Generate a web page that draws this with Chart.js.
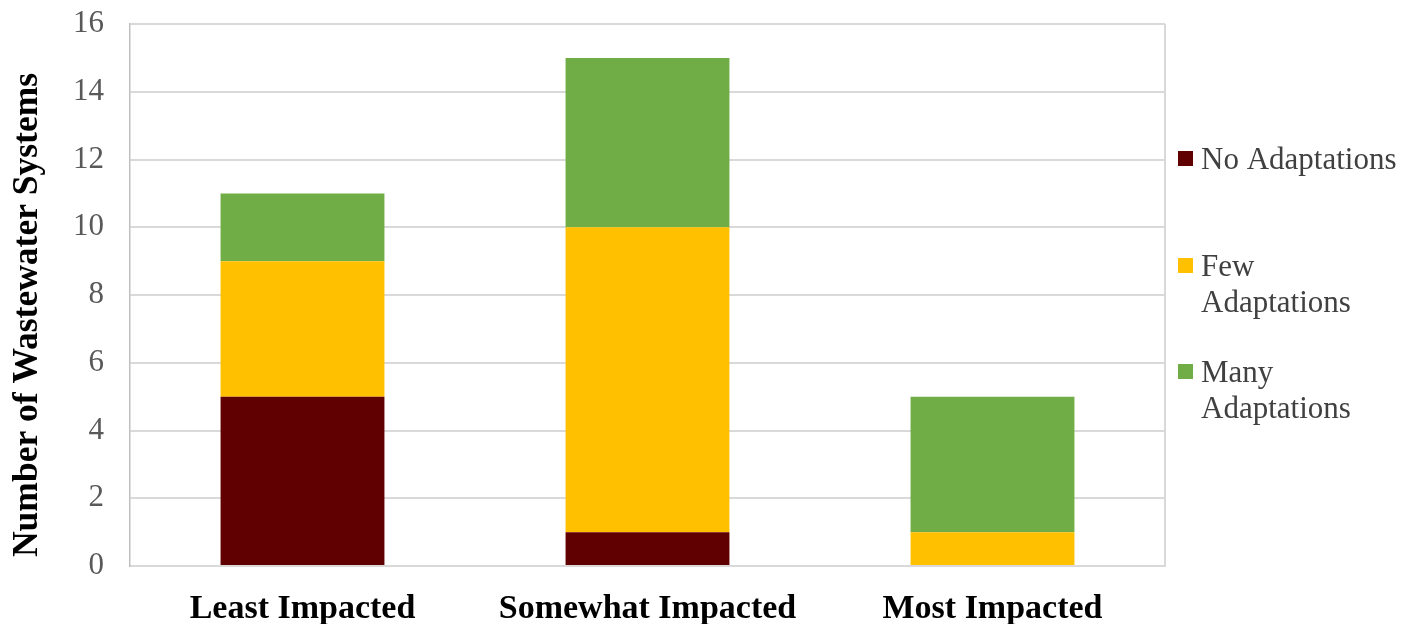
<!DOCTYPE html>
<html>
<head>
<meta charset="utf-8">
<script src="https://cdn.jsdelivr.net/npm/chart.js@4/dist/chart.umd.min.js"></script>
<style>
  html, body { margin: 0; padding: 0; background: #ffffff; }
  #wrap { width: 1415px; height: 624px; position: relative; }
</style>
</head>
<body>
<div id="wrap"><canvas id="c"></canvas></div>
<script>
const categories = ["Least Impacted", "Somewhat Impacted", "Most Impacted"];
const seriesNames = ["No Adaptations", "Few Adaptations", "Many Adaptations"];
const legendLines = [["No Adaptations"], ["Few", "Adaptations"], ["Many", "Adaptations"]];
const noAdaptations = [5, 1, 0];
const fewAdaptations = [4, 9, 1];
const manyAdaptations = [2, 5, 4];
const seriesColors = ["#600000", "#FFC000", "#70AD47"];
const yTitle = "Number of Wastewater Systems";
const yMin = 0, yMax = 16, yStep = 2;

const SERIF = '"Liberation Serif", "Times New Roman", Times, serif';

const frameBorder = {
  id: 'frameBorder',
  beforeDatasetsDraw(chart) {
    const a = chart.chartArea, ctx = chart.ctx;
    ctx.save();
    ctx.strokeStyle = '#d9d9d9';
    ctx.lineWidth = 2;
    ctx.beginPath();
    ctx.moveTo(a.right, a.top);
    ctx.lineTo(a.right, a.bottom);
    ctx.stroke();
    ctx.restore();
  }
};

const yAxisTitle = {
  id: 'yAxisTitle',
  afterDraw(chart) {
    const ctx = chart.ctx;
    ctx.save();
    ctx.translate(28, 315);
    ctx.rotate(-Math.PI / 2);
    ctx.font = 'bold 35.5px ' + SERIF;
    ctx.fillStyle = '#000000';
    ctx.textAlign = 'center';
    ctx.textBaseline = 'middle';
    ctx.fillText(yTitle, 0, 0);
    ctx.restore();
  }
};

const sideLegend = {
  id: 'sideLegend',
  afterDraw(chart) {
    const ctx = chart.ctx;
    const a = chart.chartArea;
    const x0 = a.right + 13;
    const firstBaselines = [169, 276, 382];
    const lineGap = 36;
    ctx.save();
    ctx.font = '31px ' + SERIF;
    ctx.textBaseline = 'alphabetic';
    ctx.textAlign = 'left';
    chart.data.datasets.forEach((ds, i) => {
      const base = firstBaselines[i];
      ctx.fillStyle = ds.backgroundColor;
      ctx.fillRect(x0, base - 18, 15, 15);
      ctx.fillStyle = '#404040';
      legendLines[i].forEach((ln, j) => {
        ctx.fillText(ln, x0 + 23, base + j * lineGap);
      });
    });
    ctx.restore();
  }
};

new Chart(document.getElementById('c'), {
  type: 'bar',
  data: {
    labels: categories,
    datasets: [
      { label: seriesNames[0], data: noAdaptations, backgroundColor: seriesColors[0] },
      { label: seriesNames[1], data: fewAdaptations, backgroundColor: seriesColors[1] },
      { label: seriesNames[2], data: manyAdaptations, backgroundColor: seriesColors[2] }
    ]
  },
  options: {
    responsive: true,
    maintainAspectRatio: false,
    animation: false,
    layout: { padding: { top: 24, right: 250, left: 0, bottom: 0 } },
    datasets: { bar: { categoryPercentage: 1.0, barPercentage: 0.475, borderWidth: 0 } },
    plugins: { legend: { display: false }, tooltip: { enabled: false }, title: { display: false } },
    scales: {
      x: {
        stacked: true,
        grid: { display: false, drawTicks: false },
        border: { display: true, color: '#d9d9d9', width: 2 },
        ticks: { color: '#000000', font: { family: SERIF, size: 34, weight: 'bold' }, padding: 23, maxRotation: 0 },
        afterFit(scale) { scale.height = 58; scale.paddingLeft = 0; scale.paddingRight = 0; }
      },
      y: {
        stacked: true,
        min: yMin, max: yMax,
        grid: { color: '#d9d9d9', lineWidth: 2, drawTicks: false },
        border: { display: true, color: '#bfbfbf', width: 1.5 },
        ticks: { stepSize: yStep, color: '#595959', font: { family: SERIF, size: 31 }, padding: 26 },
        title: { display: false, text: yTitle },
        afterFit(scale) { scale.width = 130; scale.paddingTop = 0; scale.paddingBottom = 0; }
      }
    }
  },
  plugins: [frameBorder, yAxisTitle, sideLegend]
});
</script>
</body>
</html>
